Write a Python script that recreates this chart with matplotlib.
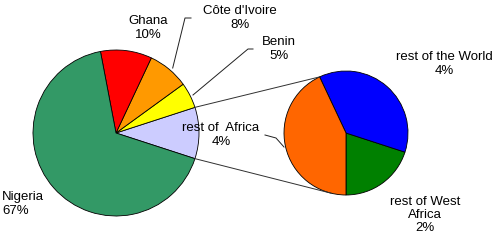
import matplotlib
import matplotlib.pyplot as plt
import numpy as np

matplotlib.rcParams.update({"font.family": "Liberation Sans", "font.size": 9.5})

# main pie, counterclockwise from the lavender slice
main_names = ["rest of  Africa", "Benin", "Côte d'Ivoire", "Ghana", "Nigeria"]
main_values = [10, 5, 8, 10, 67]
main_colors = ["#CCCCFF", "#FFFF00", "#FF9900", "#FF0000", "#339966"]

# breakdown of the "rest" slice, counterclockwise from the bottom
sub_names = ["rest of West\nAfrica", "rest of the World", "rest of  Africa"]
sub_values = [2.0, 3.7, 4.3]
sub_labels = ["2%", "4%", "4%"]
sub_colors = ["#008000", "#0000FF", "#FF6600"]

W, H = 500, 241
fig = plt.figure(figsize=(5, 2.41), dpi=100)
ax = fig.add_axes([0, 0, 1, 1])

c1, r1 = (116, H - 133), 83
c2, r2 = (346, H - 133), 62
start1 = -18
start2 = -90

edge = {"edgecolor": "black", "linewidth": 0.6}
ax.pie(main_values, colors=main_colors, startangle=start1, center=c1, radius=r1,
       wedgeprops=edge, frame=True)
ax.pie(sub_values, colors=sub_colors, startangle=start2, center=c2, radius=r2,
       wedgeprops=edge, frame=True)
ax.set_xlim(0, W)
ax.set_ylim(0, H)
ax.set_aspect("equal")
ax.axis("off")


def pt(c, r, ang):
    a = np.radians(ang)
    return c[0] + r * np.cos(a), c[1] + r * np.sin(a)


# connector lines between the two pies
a_top = start1 + 360 * main_values[0] / sum(main_values)
a_bot = start1
s_top = start2 + 360 * (sub_values[0] + sub_values[1]) / sum(sub_values)
s_bot = -104
for a, b in [(a_top, s_top), (a_bot, s_bot)]:
    p, q = pt(c1, r1, a), pt(c2, r2, b)
    ax.plot([p[0], q[0]], [p[1], q[1]], color="#303030", lw=0.7)

lc = "#202020"
# leader lines
ax.plot([172.7, 185, 191], [H - 68, H - 18, H - 18], color=lc, lw=0.7)
ax.plot([193, 248, 253], [H - 95, H - 49, H - 49], color=lc, lw=0.7)
ax.plot([265, 276, 284], [H - 135, H - 138, H - 147], color=lc, lw=0.7)

txt = {"ha": "center", "va": "center", "linespacing": 1.15}
ax.text(148, H - 28, "Ghana\n10%", **txt)
ax.text(240, H - 18, "Côte d'Ivoire\n8%", **txt)
ax.text(279, H - 49, "Benin\n5%", **txt)
ax.text(221, H - 135, main_names[0] + "\n4%", **txt)
ax.text(444, H - 64, sub_names[1] + "\n" + sub_labels[1], **txt)
ax.text(425, H - 215, sub_names[0] + "\n" + sub_labels[0], **txt)
ax.text(2, H - 204, "Nigeria\n67%", ha="left", va="center", linespacing=1.15)

fig.savefig("out.png", dpi=100)
